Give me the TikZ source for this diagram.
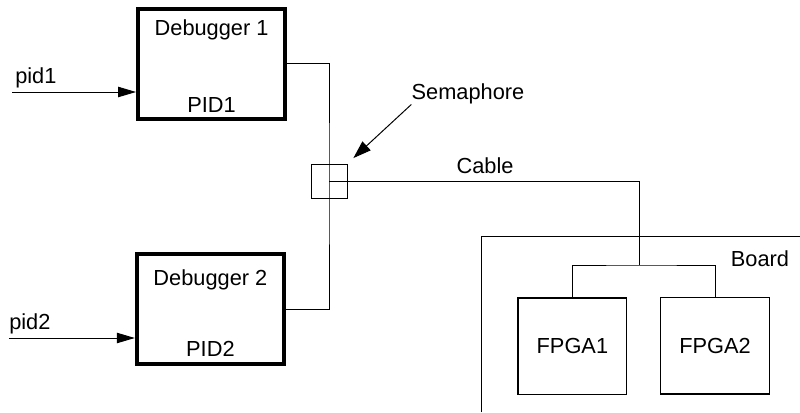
\documentclass[tikz,border=0pt]{standalone}
\usepackage{fontspec}
\setmainfont{Liberation Sans}
\usetikzlibrary{arrows.meta}
\begin{document}
\begin{tikzpicture}[
  font=\fontsize{15.5}{18}\selectfont,
  wire/.style={line width=0.7pt},
  debugbox/.style={draw,line width=2.8pt,minimum width=3.68cm,minimum height=2.75cm},
  chipbox/.style={draw,line width=0.8pt,minimum width=2.72cm,minimum height=2.42cm},
  inarrow/.style={wire,-{Triangle[length=0.45cm,width=0.26cm]}}
]
  \useasboundingbox (0,0) rectangle (20,10.3);

  \node[debugbox] (d1) at (5.29,8.71) {};
  \node (d1name) at ([yshift=-0.59cm]d1.north) {Debugger 1};
  \node (d1pid) at ([yshift=0.39cm]d1.south) {PID1};
  \node[debugbox] (d2) at (5.26,2.57) {};
  \node (d2name) at ([yshift=-0.68cm]d2.north) {Debugger 2};
  \node (d2pid) at ([yshift=0.42cm]d2.south) {PID2};

  \coordinate (pid1in) at (0.3,8.0);
  \node[anchor=base west,inner sep=0] (pid1) at (0.375,8.2) {pid1};
  \draw[inarrow] (pid1in) -- (pid1in -| d1.west);
  \coordinate (pid2in) at (0.22,1.85);
  \node[anchor=base west,inner sep=0] (pid2) at (0.225,2.07) {pid2};
  \draw[inarrow] (pid2in) -- (pid2in -| d2.west);

  \node[draw,wire,minimum width=0.9cm,minimum height=0.85cm] (sem) at (8.225,5.775) {};
  \draw[wire] (d1.east) -| (sem.center) |- (d2.east);
  \node[inner sep=0] (semlbl) at (11.7,7.95) {Semaphore};
  \draw[wire,-{Triangle[length=0.45cm,width=0.3cm]},shorten >=0.2cm]
    (semlbl.south west) -- (sem.north east);

  \draw[wire] (12.025,0) |- (20,4.4);
  \node (board) at (19.0,3.825) {Board};
  \node (cable) at (12.125,6.15) {Cable};

  \node[chipbox] (fp1) at (14.31,1.64) {FPGA1};
  \node[chipbox] (fp2) at (17.875,1.66) {FPGA2};
  \coordinate (junc) at (15.975,3.675);
  \draw[wire] (sem.center) -| (junc);
  \draw[wire] (fp1.north) |- (junc) -| (fp2.north);
\end{tikzpicture}
\end{document}
